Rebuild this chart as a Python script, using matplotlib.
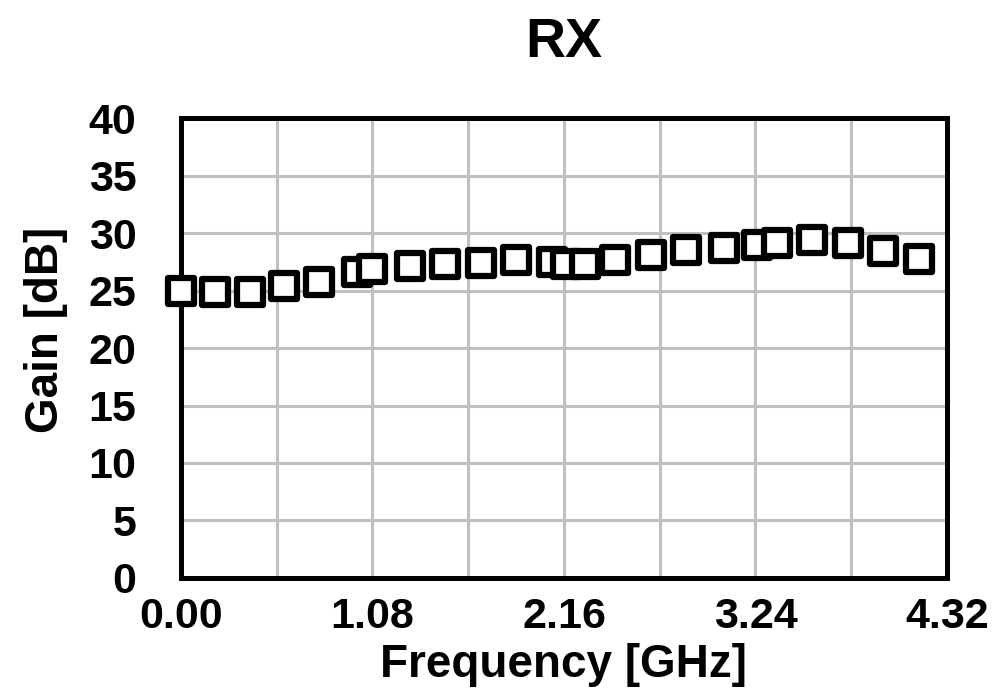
import matplotlib
matplotlib.use("Agg")
import matplotlib.pyplot as plt
from matplotlib.markers import MarkerStyle
import numpy as np

plt.rcParams['font.family'] = ['Liberation Sans', 'DejaVu Sans']
plt.rcParams['font.weight'] = 'bold'

freq_ghz = [0.00, 0.19, 0.39, 0.58, 0.78, 0.99, 1.08, 1.29, 1.49, 1.69, 1.89, 2.09,
            2.17, 2.28, 2.45, 2.65, 2.85, 3.06, 3.25, 3.36, 3.56, 3.76, 3.96, 4.16]
gain_db = [25.0, 24.9, 24.9, 25.4, 25.7, 26.6, 26.9, 27.1, 27.3, 27.4, 27.65, 27.5,
           27.3, 27.3, 27.65, 28.1, 28.5, 28.7, 29.0, 29.1, 29.4, 29.1, 28.4, 27.7]
x_ticks = [0.00, 0.54, 1.08, 1.62, 2.16, 2.70, 3.24, 3.78, 4.32]
x_labels = ['0.00', '', '1.08', '', '2.16', '', '3.24', '', '4.32']
y_ticks = [0, 5, 10, 15, 20, 25, 30, 35, 40]

fig = plt.figure(figsize=(10.07, 7.0), dpi=100)
ax = fig.add_axes([0.1797, 0.1743, 0.7607, 0.6571])

ax.plot(freq_ghz, gain_db, linestyle='none',
        marker=MarkerStyle('s', joinstyle='round'), markersize=19,
        markerfacecolor='white', markeredgecolor='black', markeredgewidth=4.5,
        clip_on=False, zorder=5)

ax.set_xlim(0, 4.32)
ax.set_ylim(0, 40)
ax.set_xticks(x_ticks)
ax.set_xticklabels(x_labels)
ax.set_yticks(y_ticks)
ax.grid(True, color='#c0c0c0', linewidth=2.2)
ax.set_axisbelow(True)
for s in ax.spines.values():
    s.set_linewidth(3.6)
    s.set_color('black')
ax.tick_params(axis='both', length=0, labelsize=31)
ax.tick_params(axis='x', pad=14)
ax.tick_params(axis='y', pad=32)
for lbl in ax.get_xticklabels() + ax.get_yticklabels():
    lbl.set_fontweight('bold')

ax.set_xlabel('Frequency [GHz]', fontsize=33, fontweight='bold', labelpad=4)
ax.set_ylabel('Gain [dB]', fontsize=33, fontweight='bold')
ax.yaxis.set_label_coords(-0.148, 0.539)
ax.set_title('RX', fontsize=40, fontweight='bold', pad=44)

fig.savefig('out.png', dpi=100)
